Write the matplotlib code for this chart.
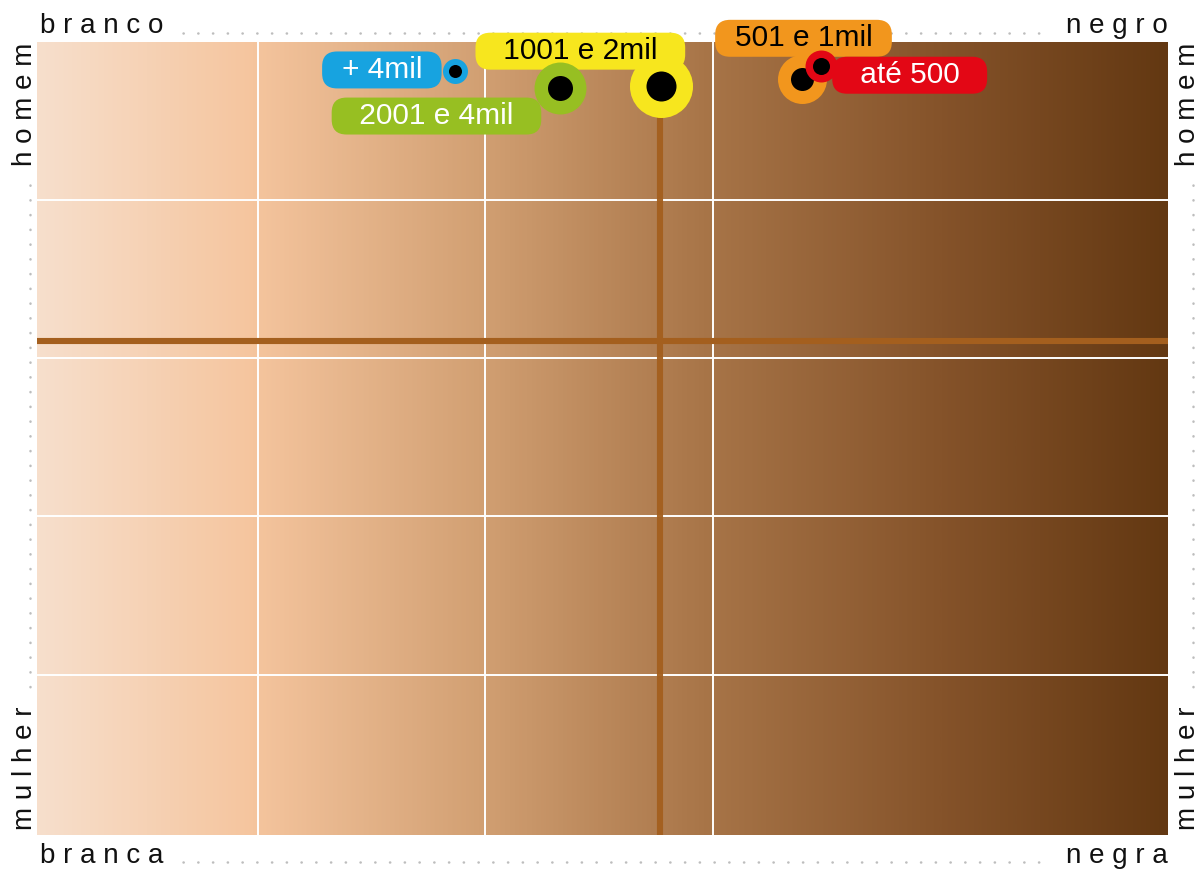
import matplotlib
matplotlib.use('Agg')
import matplotlib.pyplot as plt
import numpy as np
from matplotlib.colors import LinearSegmentedColormap
from matplotlib.lines import Line2D

plt.rcParams['font.family'] = ['Liberation Sans', 'DejaVu Sans']

# faixas de renda: posicao na escala cor (0 = branco, 100 = negro)
# e genero (0 = mulher, 100 = homem)
faixas = ['+ 4mil', '2001 e 4mil', '1001 e 2mil', '501 e 1mil', 'até 500']
cor_pele = [37.0, 46.2, 55.2, 67.6, 69.3]
genero = [96.3, 94.2, 94.5, 95.3, 97.0]
tamanho = [324, 1400, 2060, 1245, 530]
tamanho_ponto = [88, 324, 467, 274, 150]
cores = ['#17A3E0', '#97BF22', '#F7E61E', '#F2961D', '#E30715']
cores_texto = ['white', 'white', 'black', 'black', 'white']
# deslocamento dos rotulos (pontos) e margem interna
desloc = [(-53, 1), (-88.6, -20.2), (-58.3, 24.8), (1.4, 29.5), (64, -6.8)]
margem = ['\u2002', '\u2002 ', '\u2002 ', '\u2002', '\u2002 ']
# ordem de desenho (quem fica por cima)
ordem = [2, 1, 0, 3, 4]

media_cor = 55.1
media_genero = 62.3
grade_x = [19.5, 39.6, 59.8]
grade_y = [20.2, 40.2, 60.2, 80.1]

fundo = LinearSegmentedColormap.from_list('pele', [
    (0.0, '#F7DFCC'), (0.19, '#F5C59E'), (0.39, '#D2A073'),
    (0.59, '#A87548'), (0.80, '#85532A'), (1.0, '#633812')])

W, H = 1203, 871
fig = plt.figure(figsize=(W / 100, H / 100), dpi=100)
ax = fig.add_axes([37 / W, (H - 835) / H, 1131 / W, 793 / H])
ax.imshow(np.linspace(0, 1, 512).reshape(1, -1), cmap=fundo, aspect='auto',
          extent=[0, 100, 0, 100], zorder=0)
ax.set_xlim(0, 100)
ax.set_ylim(0, 100)
ax.axis('off')

for gx in grade_x:
    ax.axvline(gx, color='white', lw=1.4, zorder=1)
for gy in grade_y:
    ax.axhline(gy, color='white', lw=1.4, zorder=1)

ax.axhline(media_genero, color='#A45F1E', lw=4.4, zorder=2)
ax.axvline(media_cor, color='#A45F1E', lw=4.4, zorder=2, alpha=0.95)

for k, i in enumerate(ordem):
    z = 3 + 3 * k
    ax.scatter(cor_pele[i], genero[i], s=tamanho[i], color=cores[i],
               lw=0, zorder=z, clip_on=False)
    ax.scatter(cor_pele[i], genero[i], s=tamanho_ponto[i], color='black',
               lw=0, zorder=z + 1, clip_on=False)
    ax.annotate(margem[i] + faixas[i] + margem[i][::-1],
                xy=(cor_pele[i], genero[i]),
                xytext=desloc[i], textcoords='offset points',
                ha='center', va='center', fontsize=21.5, color=cores_texto[i],
                bbox=dict(boxstyle='round,pad=0.15,rounding_size=0.5',
                          fc=cores[i], ec='none'),
                zorder=z + 2, annotation_clip=False)

# rotulos externos
kw = dict(fontsize=20, color='#111111')
fig.text(40 / W, 1 - 33 / H, 'b r a n c o', ha='left', va='baseline', **kw)
fig.text(1168 / W, 1 - 33 / H, 'n e g r o', ha='right', va='baseline', **kw)
fig.text(40 / W, 1 - 863 / H, 'b r a n c a', ha='left', va='baseline', **kw)
fig.text(1168 / W, 1 - 863 / H, 'n e g r a', ha='right', va='baseline', **kw)
fig.text(12 / W, 1 - 43 / H, 'h o m e m', rotation=90, ha='left', va='top', **kw)
fig.text(12 / W, 1 - 830 / H, 'm u l h e r', rotation=90, ha='left', va='bottom', **kw)
fig.text(1175 / W, 1 - 43 / H, 'h o m e m', rotation=90, ha='left', va='top', **kw)
fig.text(1175 / W, 1 - 830 / H, 'm u l h e r', rotation=90, ha='left', va='bottom', **kw)

# linhas pontilhadas (atras do grafico)
pont = dict(color='#BDBDBD', lw=1.8, linestyle=(0, (0.1, 5.8)),
            dash_capstyle='round', transform=fig.transFigure, zorder=-1)
fig.add_artist(Line2D([183 / W, 1050 / W], [1 - 33 / H, 1 - 33 / H], **pont))
fig.add_artist(Line2D([183 / W, 1050 / W], [1 - 862 / H, 1 - 862 / H], **pont))
fig.add_artist(Line2D([30 / W, 30 / W], [1 - 185 / H, 1 - 690 / H], **pont))
fig.add_artist(Line2D([1193 / W, 1193 / W], [1 - 185 / H, 1 - 690 / H], **pont))

fig.savefig('out.png', dpi=100)
